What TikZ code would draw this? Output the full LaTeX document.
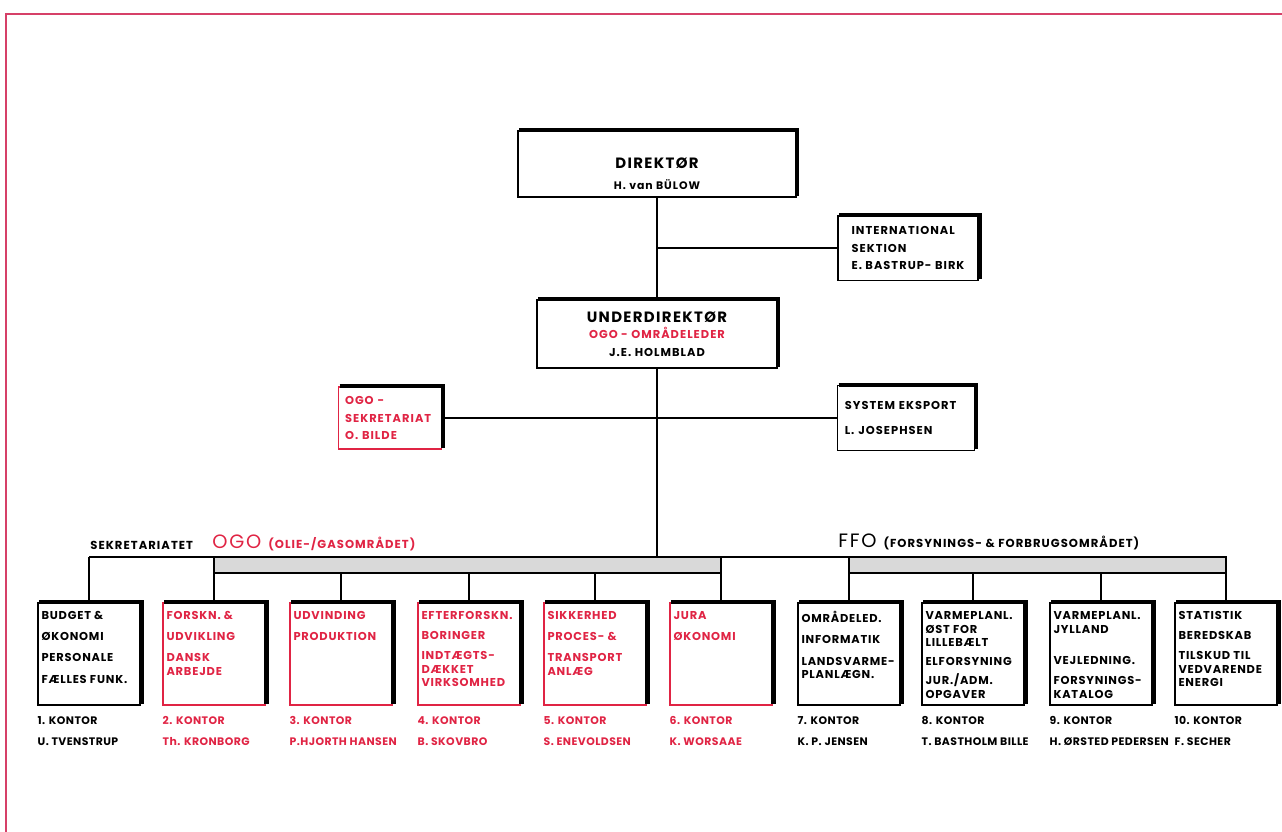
\documentclass[tikz,border=0pt]{standalone}
\usepackage{fontspec}
\setmainfont{Poppins}[LetterSpace=9]
\definecolor{ogored}{RGB}{224,36,68}
\definecolor{framered}{RGB}{214,64,104}
\tikzset{
  box/.style={draw, line width=0.8pt, font=\bfseries\fontsize{6.5}{8.5}\selectfont},
  kontor/.style={box, inner xsep=0.07cm, inner ysep=0.06cm, font=\bfseries\fontsize{6.5}{7.8}\selectfont\addfontfeature{LetterSpace=7}},
  bus/.style={line width=1.1pt},
  sign/.style={anchor=west, inner sep=0pt, font=\bfseries\fontsize{6.6}{8}\selectfont},
  under/.style={anchor=north west, inner sep=0pt, align=left, font=\bfseries\fontsize{6.2}{12}\selectfont\addfontfeature{LetterSpace=4}},
}
\newcommand{\kbox}[1]{\parbox[c][1.92cm][t]{1.9cm}{\raggedright\vspace*{3pt}#1}}
\begin{document}
\begin{tikzpicture}[x=0.02cm, y=-0.02cm]
  \useasboundingbox (0,0) rectangle (1282,832);
  \draw[framered, line width=1pt] (1282,14) -- (6,14) -- (6,832);

  % top of the chart
  \node[box, minimum width=5.56cm, minimum height=1.32cm, align=center] (dir) at (657,164)
    {\rule{0pt}{17pt}\fontsize{8.5}{10}\selectfont DIREKTØR\\[3.5pt] \fontsize{6.2}{8}\selectfont H. van BÜLOW};
  \node[box, minimum width=2.8cm, minimum height=1.3cm, align=left] (int) at (908,248)
    {INTERNATIONAL\\[1.2pt] SEKTION\\[1.2pt] E. BASTRUP- BIRK};
  \node[box, minimum width=4.8cm, minimum height=1.36cm, align=center] (ud) at (657,334)
    {\fontsize{8.5}{10}\selectfont UNDERDIREKTØR\\[1pt] \fontsize{6.5}{9}\selectfont\color{ogored}OGO - OMRÅDELEDER\\[1.5pt] \fontsize{6.5}{9}\selectfont J.E. HOLMBLAD};
  \node[box, ogored, minimum width=2.06cm, minimum height=1.24cm, align=left, text width=1.8cm] (osek) at (390,418)
    {OGO -\\[1.3pt] SEKRETARIAT\\[1.3pt] O. BILDE};
  \node[box, minimum width=2.74cm, minimum height=1.3cm, align=left, text width=2.45cm] (sys) at (906,418)
    {SYSTEM EKSPORT\\[6pt] L. JOSEPHSEN};

  % the ten offices
  \node[kontor] (k1) at (89,654) {\kbox{BUDGET \&\\[4.3pt] ØKONOMI\\[4.3pt] PERSONALE\\[4.3pt] FÆLLES FUNK.}};
  \node[kontor, ogored] (k2) at (214,654) {\kbox{FORSKN. \&\\[4.3pt] UDVIKLING\\[4.3pt] DANSK\\ ARBEJDE}};
  \node[kontor, ogored] (k3) at (341,654) {\kbox{UDVINDING\\[4.3pt] PRODUKTION}};
  \node[kontor, ogored] (k4) at (469,654) {\kbox{EFTERFORSKN.\\[3.6pt] BORINGER\\[3.6pt] INDTÆGTS-\\ DÆKKET\\ VIRKSOMHED}};
  \node[kontor, ogored] (k5) at (595,654) {\kbox{SIKKERHED\\[4.3pt] PROCES- \&\\[4.3pt] TRANSPORT\\ ANLÆG}};
  \node[kontor, ogored] (k6) at (721,654) {\kbox{JURA\\[4.3pt] ØKONOMI}};
  \node[kontor] (k7) at (849,654) {\kbox{OMRÅDELED.\\[4.3pt] INFORMATIK\\[4.3pt] LANDSVARME-\\ PLANLÆGN.}};
  \node[kontor] (k8) at (973,654) {\kbox{VARMEPLANL.\\ ØST FOR\\ LILLEBÆLT\\[3pt] ELFORSYNING\\[3pt] JUR./ADM.\\ OPGAVER}};
  \node[kontor] (k9) at (1101,654) {\kbox{VARMEPLANL.\\ JYLLAND\\[10pt] VEJLEDNING.\\[3.6pt] FORSYNINGS-\\ KATALOG}};
  \node[kontor] (k10) at (1226,654) {\kbox{STATISTIK\\[3.6pt] BEREDSKAB\\[3.6pt] TILSKUD TIL\\ VEDVARENDE\\ ENERGI}};

  % heavy top and right edges
  \foreach \b in {dir,int,ud,osek,sys,k1,k2,k3,k4,k5,k6,k7,k8,k9,k10}
    \draw[line width=2.4pt] ([xshift=1pt]\b.north west) -- ([xshift=0.4pt]\b.north east) -- ([xshift=0.4pt,yshift=1pt]\b.south east);

  % names under the offices
  \foreach \k/\col/\a/\b in {1/black/1. KONTOR/U. TVENSTRUP, 2/ogored/2. KONTOR/Th. KRONBORG,
      3/ogored/3. KONTOR/P.HJORTH HANSEN, 4/ogored/4. KONTOR/B. SKOVBRO,
      5/ogored/5. KONTOR/S. ENEVOLDSEN, 6/ogored/6. KONTOR/K. WORSAAE,
      7/black/7. KONTOR/K. P. JENSEN, 8/black/8. KONTOR/T. BASTHOLM BILLE,
      9/black/9. KONTOR/H. ØRSTED PEDERSEN, 10/black/10. KONTOR/F. SECHER}
    \node[under, \col] (n\k) at ([yshift=-6pt]k\k.south west) {\a\\ \b};

  % area headings
  \node[sign] (sekr) at (90,545) {SEKRETARIATET};
  \node[sign, ogored] (ogo) at (212,543) {{\mdseries\fontsize{11}{11}\selectfont OGO}\hspace{4pt}(OLIE-/GASOMRÅDET)};
  \node[sign] (ffo) at (838,542) {{\mdseries\fontsize{11}{11}\selectfont FFO}\hspace{4pt}(FORSYNINGS- \& FORBRUGSOMRÅDET)};

  % lines
  \coordinate (busL) at (89,557);
  \coordinate (band) at (89,573);
  \draw[bus] (dir.south) -- (ud.north);
  \draw[bus] (int.west) -- (int.west -| dir.south);
  \draw[bus] (osek.east) -- (sys.west);
  \draw[bus] (ud.south) -- (ud.south |- busL);
  \draw[bus, fill=black!15] (k2.north |- busL) rectangle (k6.north |- band);
  \draw[bus, fill=black!15] (k7.north |- busL) rectangle (k10.north |- band);
  \draw[bus] (busL) -- (k10.north |- busL);
  \draw[bus] (busL) -- (k1.north);
  \foreach \k in {k2,k6,k7,k10}
    \draw[bus] (\k.north |- band) -- (\k.north);
  \foreach \k in {k3,k4,k5,k8,k9}
    \draw[bus] (\k.north |- band) -- (\k.north);
\end{tikzpicture}
\end{document}
